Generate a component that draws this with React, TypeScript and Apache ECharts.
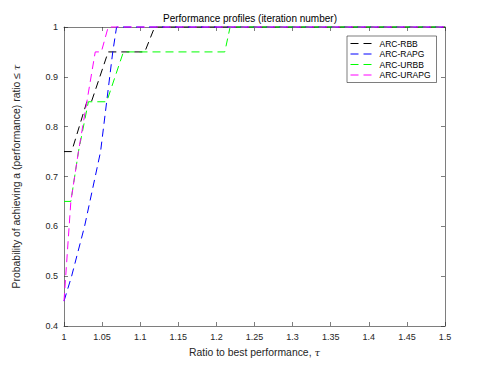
import React, { useEffect, useRef } from 'react';
import * as echarts from 'echarts';

const seriesNames = ['ARC-RBB', 'ARC-RAPG', 'ARC-URBB', 'ARC-URAPG'];
const seriesColors = ['#000000', '#0000ff', '#00ff00', '#ff00ff'];

const rbbX = [1, 1.01, 1.03, 1.036, 1.058, 1.106, 1.119, 1.5];
const rbbY = [0.75, 0.75, 0.85, 0.85, 0.95, 0.95, 1, 1];

const rapgX = [1, 1.01, 1.027, 1.041, 1.048, 1.056, 1.064, 1.069, 1.5];
const rapgY = [0.45, 0.5, 0.6, 0.7, 0.75, 0.85, 0.95, 1, 1];

const urbbX = [1, 1.009, 1.019, 1.032, 1.056, 1.078, 1.211, 1.218, 1.5];
const urbbY = [0.65, 0.65, 0.75, 0.85, 0.85, 0.95, 0.95, 1, 1];

const urapgX = [1, 1.009, 1.019, 1.03, 1.041, 1.049, 1.058, 1.5];
const urapgY = [0.45, 0.65, 0.75, 0.85, 0.95, 0.95, 1, 1];

const allX = [rbbX, rapgX, urbbX, urapgX];
const allY = [rbbY, rapgY, urbbY, urapgY];

const titleText = 'Performance profiles (iteration number)';
const xName = 'Ratio to best performance, {i|τ}';
const yName = 'Probability of achieving a (performance) ratio ≤ {i|τ}';

const FONT = '"Liberation Sans", Arial, Helvetica, sans-serif';
const AX = '#262626';

const fmt = (v: number) => String(Math.round(v * 100) / 100);

export default function App() {
  const ref = useRef<HTMLDivElement>(null);
  useEffect(() => {
    if (!ref.current) return;
    const chart = echarts.init(ref.current, null, { renderer: 'svg' });
    const axisLine = { show: true, onZero: false, lineStyle: { color: AX, width: 0.6 } };
    const axisTick = { show: true, inside: true, length: 4, lineStyle: { color: AX, width: 0.6 } };
    const rich = { i: { fontStyle: 'italic', fontFamily: 'DejaVu Serif', fontSize: 10, color: AX } };
    const option: any = {
      animation: false,
      grid: { left: 64, right: 46, top: 27, bottom: 42, containLabel: false },
      graphic: [
        {
          type: 'text',
          x: 250,
          y: 18,
          style: {
            text: titleText,
            fill: '#000',
            font: `10px ${FONT}`,
            textAlign: 'center',
            textVerticalAlign: 'middle',
          },
        },
      ],
      xAxis: [
        {
          type: 'value', min: 1, max: 1.5, interval: 0.05, position: 'bottom',
          axisLine, axisTick, splitLine: { show: false },
          axisLabel: { margin: 6, fontSize: 9, color: AX, fontFamily: FONT, formatter: fmt },
          name: xName, nameLocation: 'middle', nameGap: 21,
          nameTextStyle: { fontSize: 10.4, color: AX, fontFamily: FONT, rich },
        },
        {
          type: 'value', min: 1, max: 1.5, interval: 0.05, position: 'top',
          axisLine, axisTick, splitLine: { show: false }, axisLabel: { show: false },
        },
      ],
      yAxis: [
        {
          type: 'value', min: 0.4, max: 1, interval: 0.1, position: 'left',
          axisLine, axisTick, splitLine: { show: false },
          axisLabel: { margin: 6, fontSize: 9, color: AX, fontFamily: FONT, formatter: fmt },
          name: yName, nameLocation: 'middle', nameGap: 43, nameRotate: 90,
          nameTextStyle: { fontSize: 10.4, color: AX, fontFamily: FONT, rich },
        },
        {
          type: 'value', min: 0.4, max: 1, interval: 0.1, position: 'right',
          axisLine, axisTick, splitLine: { show: false }, axisLabel: { show: false },
        },
      ],
      legend: {
        orient: 'vertical',
        left: 347,
        top: 36,
        padding: [3, 6, 3, 3],
        itemWidth: 24,
        itemHeight: 10,
        itemGap: 1.5,
        borderColor: AX,
        borderWidth: 0.6,
        backgroundColor: '#fff',
        data: seriesNames,
        itemStyle: { opacity: 0 },
        lineStyle: { width: 1, type: [8, 5] },
        textStyle: { fontSize: 8.5, color: '#000', fontFamily: FONT },
      },
      series: seriesNames.map((name, i) => ({
        type: 'line',
        name,
        xAxisIndex: 0,
        yAxisIndex: 0,
        symbol: 'none',
        clip: false,
        data: allX[i].map((x, j) => [x, allY[i][j]]),
        lineStyle: { color: seriesColors[i], width: 1, type: [8, 5] },
        itemStyle: { color: seriesColors[i] },
      })),
    };
    chart.setOption(option);
    return () => chart.dispose();
  }, []);
  return (
    <div
      ref={ref}
      style={{ position: 'absolute', left: 0, top: 0, width: 491, height: 368, background: '#fff' }}
    />
  );
}
